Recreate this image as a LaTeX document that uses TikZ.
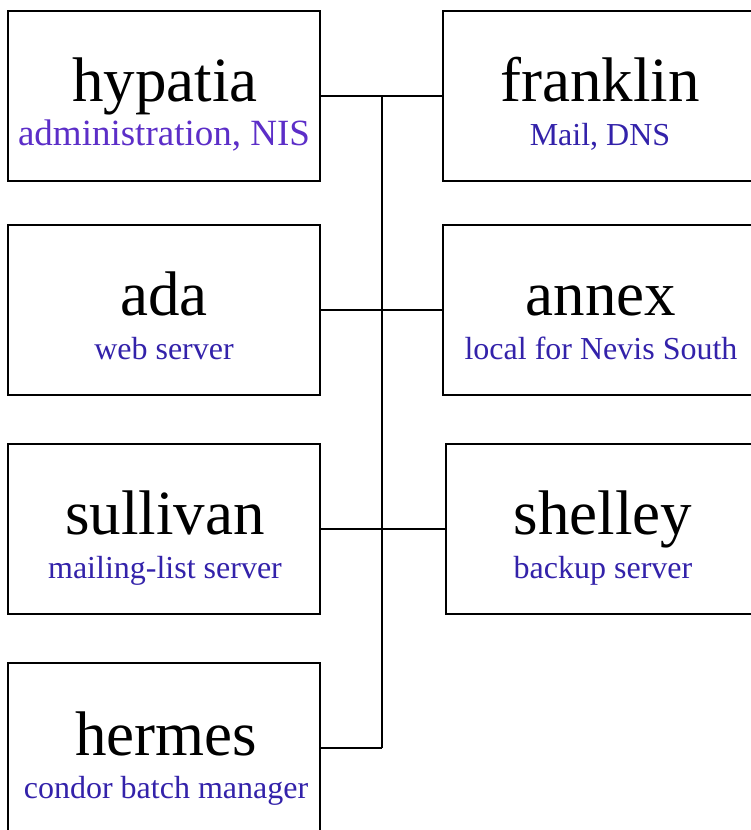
\documentclass[tikz,border=0pt]{standalone}
\usepackage{fontspec}
\setmainfont{Liberation Serif}
\definecolor{subblue}{RGB}{51,34,170}
\definecolor{subpurple}{RGB}{92,46,200}
\begin{document}
\begin{tikzpicture}[x=1pt,y=-1pt,
  hostbox/.style={draw=black, line width=1.6pt, rectangle, minimum width=312pt, minimum height=170pt, inner sep=0pt},
  title/.style={anchor=base, inner sep=0pt, font=\fontsize{63}{70}\selectfont},
  subtitle/.style={anchor=base, inner sep=0pt, text=subblue, font=\fontsize{32}{36}\selectfont},
  wire/.style={line width=1.6pt}]
\useasboundingbox (0,0) rectangle (751,830);
\clip (0,0) rectangle (751,830);
\fill[white] (0,0) rectangle (751,830);
% boxes
\node[hostbox] (hyp) at (164,96) {};
\node[hostbox] (fra) at (599,96) {};
\node[hostbox] (ada) at (164,310) {};
\node[hostbox] (ann) at (599,310) {};
\node[hostbox] (sul) at (164,529) {};
\node[hostbox] (she) at (602,529) {};
\node[hostbox] (her) at (164,748) {};
% texts
\node[title] (hypt) at (165,101) {hypatia};
\node[subtitle, text=subpurple, font=\fontsize{37}{40}\selectfont] (hyps) at (164,145) {administration, NIS};
\node[title] (frat) at (600,101) {franklin};
\node[subtitle] (fras) at (600,145) {Mail, DNS};
\node[title] (adat) at (164,315) {ada};
\node[subtitle] (adas) at (164,359) {web server};
\node[title] (annt) at (601,315) {annex};
\node[subtitle] (anns) at (601,359) {local for Nevis South};
\node[title] (sult) at (165,534) {sullivan};
\node[subtitle] (suls) at (165,578) {mailing-list server};
\node[title] (shet) at (603,534) {shelley};
\node[subtitle] (shes) at (603,578) {backup server};
\node[title] (hert) at (166,755) {hermes};
\node[subtitle] (hers) at (166,798) {condor batch manager};
% connectors
\coordinate (bustop) at (382,96);
\coordinate (busbot) at (382,748);
\draw[wire] (bustop) -- (busbot);
\draw[wire] (hyp.east) -- (fra.west);
\draw[wire] (ada.east) -- (ann.west);
\draw[wire] (sul.east) -- (she.west);
\draw[wire] (her.east) -- (busbot);
\end{tikzpicture}
\end{document}
